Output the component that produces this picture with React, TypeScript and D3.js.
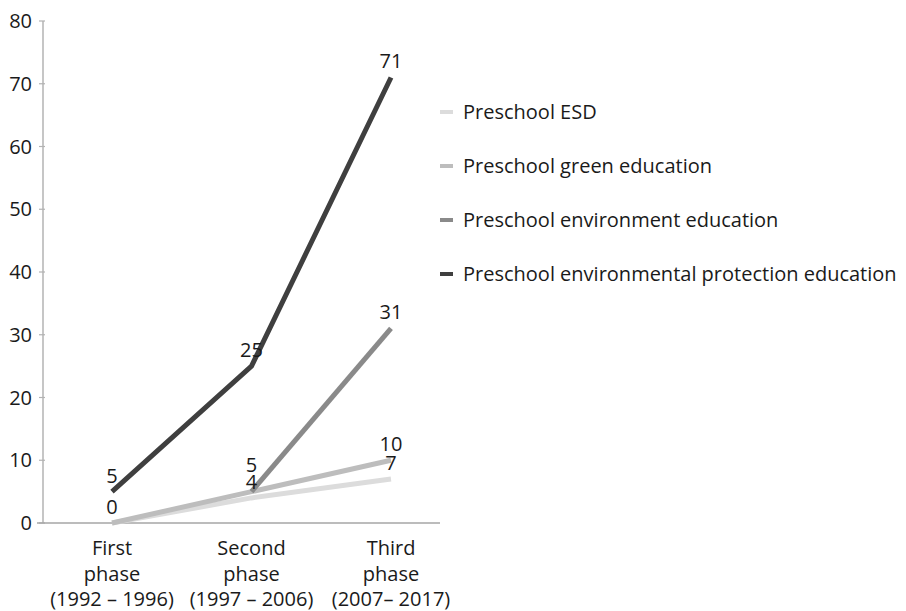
import React from "react";
import * as d3 from "d3";

const categories = [
  ["First", "phase", "(1992 – 1996)"],
  ["Second", "phase", "(1997 – 2006)"],
  ["Third", "phase", "(2007– 2017)"],
];
const seriesNames = [
  "Preschool ESD",
  "Preschool green education",
  "Preschool environment education",
  "Preschool environmental protection education",
];
const esd = [0, 4, 7];
const green = [0, 5, 10];
const environment = [null, 5, 31];
const protection = [5, 25, 71];
const yTicks = [0, 10, 20, 30, 40, 50, 60, 70, 80];
const colors = ["#dcdcdc", "#bdbdbd", "#8a8a8a", "#3f3f3f"];

const W = 906;
const H = 611;
const FONT = "'Open Sans', sans-serif";
const FS = 20;

export default function App() {
  const allSeries = [esd, green, environment, protection];
  const x = d3.scalePoint<number>().domain([0, 1, 2]).range([112, 391]);
  const y = d3.scaleLinear().domain([0, 80]).range([523, 21]);
  const axisX = 43;

  const line = d3
    .line<number | null>()
    .defined((d) => d !== null)
    .x((_, i) => x(i) as number)
    .y((d) => y(d as number));

  // labels with simple collision avoidance
  type Lab = { cx: number; by: number; text: string };
  const labels: Lab[] = [];
  for (let ci = 0; ci < 3; ci++) {
    const seen = new Set<number>();
    const vals: number[] = [];
    allSeries.forEach((s) => {
      const v = s[ci];
      if (v !== null && v !== undefined && !seen.has(v)) {
        seen.add(v);
        vals.push(v);
      }
    });
    vals.sort((a, b) => a - b);
    let lastBy = Infinity;
    vals.forEach((v) => {
      let by = y(v) - 9;
      if (lastBy - by < 17) by = lastBy - 17;
      labels.push({ cx: x(ci) as number, by, text: String(v) });
      lastBy = by;
    });
  }

  const legendY = d3.scalePoint<number>().domain([0, 1, 2, 3]).range([112, 274]);

  return (
    <svg width={W} height={H} style={{ position: "absolute", left: 0, top: 0, background: "#fff" }}>
      {/* y axis */}
      <line x1={axisX} x2={axisX} y1={y(80)} y2={y(0)} stroke="#b3b3b3" strokeWidth={1.5} />
      {yTicks.map((t) => (
        <g key={t}>
          <line x1={axisX - 4} x2={axisX + 2} y1={y(t)} y2={y(t)} stroke="#b3b3b3" strokeWidth={1.2} />
          <text x={32} y={y(t)} dy="0.35em" textAnchor="end" fontFamily={FONT} fontSize={FS} fill="#1a1a1a">
            {t}
          </text>
        </g>
      ))}
      {/* x axis */}
      <line x1={37} x2={440} y1={y(0)} y2={y(0)} stroke="#a6a6a6" strokeWidth={1.5} />
      {categories.map((c, i) => (
        <text key={i} textAnchor="middle" fontFamily={FONT} fontSize={FS} fill="#1a1a1a">
          {c.map((ln, j) => (
            <tspan key={j} x={x(i)} y={555 + j * 25.5}>
              {ln}
            </tspan>
          ))}
        </text>
      ))}
      {/* lines */}
      {allSeries.map((s, i) => (
        <path key={i} d={line(s) || ""} fill="none" stroke={colors[i]} strokeWidth={5} strokeLinejoin="round" />
      ))}
      {labels.map((l, i) => (
        <text key={i} x={l.cx} y={l.by} textAnchor="middle" fontFamily={FONT} fontSize={FS} fill="#1a1a1a">
          {l.text}
        </text>
      ))}
      {/* legend */}
      {seriesNames.map((n, i) => (
        <g key={n} transform={`translate(440,${legendY(i)})`}>
          <line x1={0} x2={13} y1={0} y2={0} stroke={colors[i]} strokeWidth={4} />
          <text x={23} y={0} dy="0.35em" fontFamily={FONT} fontSize={FS} fill="#1a1a1a">
            {n}
          </text>
        </g>
      ))}
    </svg>
  );
}
